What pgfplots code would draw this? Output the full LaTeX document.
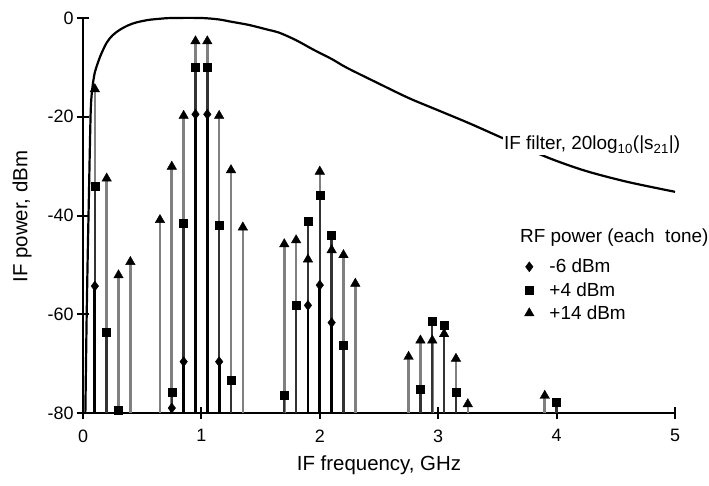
\documentclass[border=0pt]{standalone}
\usepackage{fontspec}
\setmainfont{Liberation Sans}
\usepackage{pgfplots}
\pgfplotsset{compat=1.18}
\usepackage{pgfplotstable}

% +14 dBm tones (triangles)
\pgfplotstableread{
x y
0.1 -14.4
0.2 -32.5
0.3 -52.1
0.4 -49.4
0.65 -40.9
0.75 -30.1
0.85 -19.8
0.95 -4.7
1.05 -4.7
1.15 -19.8
1.25 -30.8
1.35 -42.4
1.7 -45.8
1.8 -45.0
1.9 -48.9
2.0 -31.1
2.1 -47.0
2.2 -48.0
2.3 -53.8
2.75 -68.6
2.85 -65.3
2.95 -65.3
3.05 -64.0
3.15 -69.0
3.25 -78.2
3.9 -76.5
}\tri

% +4 dBm tones (squares)
\pgfplotstableread{
x y
0.1 -34.0
0.2 -63.6
0.3 -79.5
0.75 -75.7
0.85 -41.5
0.95 -10.0
1.05 -10.0
1.15 -41.9
1.25 -73.4
1.7 -76.4
1.8 -58.1
1.9 -41.1
2.0 -35.8
2.1 -44.0
2.2 -66.3
2.85 -75.1
2.95 -61.5
3.05 -62.3
3.15 -75.7
4.0 -77.8
}\sq

% -6 dBm tones (diamonds)
\pgfplotstableread{
x y
0.1 -54.3
0.75 -79.0
0.85 -69.6
0.95 -19.5
1.05 -19.5
1.15 -69.6
1.9 -58.2
2.0 -54.1
2.1 -61.7
}\dia

% IF filter response
\pgfplotstableread{
x y
0.02 -80
0.03 -62
0.04 -48
0.05 -36
0.065 -19
0.08 -14
0.1 -11
0.115 -9.8
0.15 -7.5
0.2 -5.0
0.25 -3.5
0.31 -2.4
0.38 -1.5
0.45 -0.9
0.55 -0.4
0.65 -0.15
0.75 0
1.0 0
1.15 -0.3
1.24 -0.7
1.4 -1.4
1.55 -2.3
1.66 -3.0
1.8 -4.5
1.945 -6.4
2.1 -8.3
2.23 -10.1
2.5 -13.3
2.75 -16.2
3.0 -18.7
3.27 -21.4
3.58 -24.7
3.94 -28.4
4.25 -31.0
4.6 -33.2
5.0 -35.2
}\filt

\begin{document}
\begin{tikzpicture}
\begin{axis}[
  at={(0,0)}, anchor=south west, scale only axis,
  width=592bp, height=395bp,
  xmin=0, xmax=5, ymin=-80, ymax=0,
  xtick={0,1,2,3,4,5}, ytick={-80,-60,-40,-20,0},
  axis lines*=left, clip=false,
  axis line style={line width=2.2bp},
  major tick length=12bp, tick align=center,
  tick style={line width=2bp, black},
  font=\fontsize{19}{22}\selectfont,
  ticklabel style={font=\fontsize{18}{21}\selectfont},
  xticklabel style={yshift=-7bp},
  /pgf/number format/assume math mode=true,
  xlabel={IF frequency, GHz}, ylabel={IF power, dBm},
  label style={font=\fontsize{20.5}{24}\selectfont},
  xlabel style={at={(axis description cs:0.5,-0.132)}, anchor=center},
  ylabel style={at={(axis description cs:-0.103,0.497)}, anchor=center},
  legend style={draw=none, fill=none, at={(axis description cs:0.738,0.40)},
    anchor=north west, row sep=4bp, font=\fontsize{19}{22}\selectfont},
  legend cell align=left,
  legend image code/.code={\path (0bp,0bp) (24bp,0bp);
    \draw[#1] plot coordinates {(6bp,0bp)};},
]
% stems
\addplot[draw=none, mark=none, forget plot, line width=2.6bp,
  error bars/.cd, y dir=minus, y explicit, error mark=none,
  error bar style={draw=black!50, line width=2.6bp}]
  table[x=x, y=y, y error expr=\thisrow{y}+80] {\tri};
\addplot[draw=none, mark=none, forget plot, line width=2.4bp,
  error bars/.cd, y dir=minus, y explicit, error mark=none,
  error bar style={draw=black!80, line width=2.4bp}]
  table[x=x, y=y, y error expr=\thisrow{y}+80] {\sq};
\addplot[draw=none, mark=none, forget plot, line width=2.8bp,
  error bars/.cd, y dir=minus, y explicit, error mark=none,
  error bar style={draw=black, line width=2.8bp}]
  table[x=x, y=y, y error expr=\thisrow{y}+80] {\dia};
% filter
\addplot[black, line width=2.2bp, smooth, forget plot] table[x=x, y=y] {\filt};
\node[fill=white, inner sep=1bp] at (axis cs:4.30,-25.7)
  {IF filter, 20log\textsubscript{10}(|s\textsubscript{21}|)};
% markers
\addplot[only marks, mark=diamond*, mark size=5bp, black, forget plot] table[x=x, y=y] {\dia};
\addplot[only marks, mark=triangle*, mark size=5.5bp, black, forget plot] table[x=x, y=y] {\tri};
\addplot[only marks, mark=square*, mark size=4bp, black, forget plot] table[x=x, y=y] {\sq};
\node[anchor=west, inner sep=0pt] at (axis cs:3.69,-44.4) {RF power (each\ \ tone)};
\addlegendimage{only marks, mark=diamond*, mark size=5bp, black}
\addlegendentry{-6 dBm}
\addlegendimage{only marks, mark=square*, mark size=4bp, black}
\addlegendentry{+4 dBm}
\addlegendimage{only marks, mark=triangle*, mark size=5.5bp, black}
\addlegendentry{+14 dBm}
\end{axis}
\pgfresetboundingbox
\path (-83bp,-73bp) rectangle (626bp,413bp);
\end{tikzpicture}
\end{document}
